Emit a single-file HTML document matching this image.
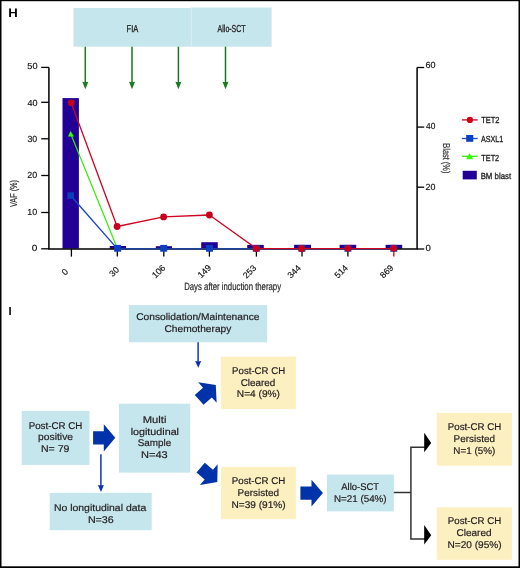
<!DOCTYPE html>
<html><head><meta charset="utf-8">
<style>
html,body{margin:0;padding:0;background:#fff;}
body{width:520px;height:568px;overflow:hidden;}
svg{display:block;}
text{font-family:"Liberation Sans",Arial,sans-serif;text-rendering:geometricPrecision;}
</style></head>
<body>
<svg width="520" height="568" viewBox="0 0 520 568">
<rect x="0" y="0" width="520" height="568" fill="#fff"/>
<text x="8.21" y="16.85" font-size="12.4" font-weight="bold" fill="#000" textLength="9.53" lengthAdjust="spacingAndGlyphs">H</text>
<rect x="73.5" y="8" width="118" height="38.7" fill="#c6e6ed"/>
<rect x="191.5" y="7.5" width="80.1" height="39.2" fill="#c6e6ed"/>
<rect x="190.9" y="7.5" width="0.9" height="39.2" fill="#d6edf2"/>
<text x="126.58" y="32.10" font-size="10" fill="#222" stroke="#222" stroke-width="0.3" textLength="11.64" lengthAdjust="spacingAndGlyphs">FIA</text>
<text x="217.58" y="31.70" font-size="10" fill="#222" stroke="#222" stroke-width="0.3" textLength="28.08" lengthAdjust="spacingAndGlyphs">Allo-SCT</text>
<line x1="85.3" y1="46.7" x2="85.3" y2="83" stroke="#177a1f" stroke-width="1.5"/>
<path d="M82.3 81.7 L85.3 82.3 L88.3 81.7 L85.3 89.2 Z" fill="#177a1f"/>
<line x1="132" y1="46.7" x2="132" y2="83" stroke="#177a1f" stroke-width="1.5"/>
<path d="M129.0 81.7 L132.0 82.3 L135.0 81.7 L132.0 89.2 Z" fill="#177a1f"/>
<line x1="178.4" y1="46.7" x2="178.4" y2="83" stroke="#177a1f" stroke-width="1.5"/>
<path d="M175.4 81.7 L178.4 82.3 L181.4 81.7 L178.4 89.2 Z" fill="#177a1f"/>
<line x1="225.5" y1="46.7" x2="225.5" y2="83" stroke="#177a1f" stroke-width="1.5"/>
<path d="M222.5 81.7 L225.5 82.3 L228.5 81.7 L225.5 89.2 Z" fill="#177a1f"/>
<rect x="62.5" y="98.1" width="16.4" height="150.5" fill="#220096"/>
<rect x="109.7" y="246" width="16.4" height="2.6" fill="#220096"/>
<rect x="155.8" y="246.2" width="16.2" height="2.4" fill="#220096"/>
<rect x="201.2" y="242.2" width="16.6" height="6.4" fill="#220096"/>
<rect x="247.2" y="244.9" width="16.6" height="3.7" fill="#220096"/>
<rect x="294.1" y="244.8" width="16.9" height="3.8" fill="#220096"/>
<rect x="339.6" y="244.8" width="16.6" height="3.8" fill="#220096"/>
<rect x="385.6" y="244.8" width="16.6" height="3.8" fill="#220096"/>
<polyline points="48.9,67.4 48.9,248.9 417.1,248.9 417.1,67.5" stroke="#000" stroke-width="1.5" fill="none" stroke-linejoin="miter"/>
<line x1="41.2" y1="67.4" x2="48.9" y2="67.4" stroke="#000" stroke-width="1.3"/>
<line x1="41.2" y1="102.3" x2="48.9" y2="102.3" stroke="#000" stroke-width="1.3"/>
<line x1="41.2" y1="138.8" x2="48.9" y2="138.8" stroke="#000" stroke-width="1.3"/>
<line x1="41.2" y1="175.5" x2="48.9" y2="175.5" stroke="#000" stroke-width="1.3"/>
<line x1="41.2" y1="212.5" x2="48.9" y2="212.5" stroke="#000" stroke-width="1.3"/>
<line x1="41.2" y1="248.8" x2="48.9" y2="248.8" stroke="#000" stroke-width="1.3"/>
<line x1="417.1" y1="67.5" x2="424.2" y2="67.5" stroke="#000" stroke-width="1.3"/>
<line x1="417.1" y1="127.1" x2="424.2" y2="127.1" stroke="#000" stroke-width="1.3"/>
<line x1="417.1" y1="187.2" x2="424.2" y2="187.2" stroke="#000" stroke-width="1.3"/>
<line x1="417.1" y1="249" x2="424.2" y2="249" stroke="#000" stroke-width="1.3"/>
<line x1="71.4" y1="249" x2="71.4" y2="256.6" stroke="#000" stroke-width="1.3"/>
<line x1="117.3" y1="249" x2="117.3" y2="256.6" stroke="#000" stroke-width="1.3"/>
<line x1="163.8" y1="249" x2="163.8" y2="256.6" stroke="#000" stroke-width="1.3"/>
<line x1="209.4" y1="249" x2="209.4" y2="256.6" stroke="#000" stroke-width="1.3"/>
<line x1="256.4" y1="249" x2="256.4" y2="256.6" stroke="#000" stroke-width="1.3"/>
<line x1="302" y1="249" x2="302" y2="256.6" stroke="#000" stroke-width="1.3"/>
<line x1="347.9" y1="249" x2="347.9" y2="256.6" stroke="#000" stroke-width="1.3"/>
<line x1="393.8" y1="249" x2="393.8" y2="256.6" stroke="#d0021b" stroke-width="1.3"/>
<text x="27.33" y="69.15" font-size="8.8" fill="#111" stroke="#111" stroke-width="0.15" textLength="10.23" lengthAdjust="spacingAndGlyphs">50</text>
<text x="27.50" y="105.75" font-size="8.8" fill="#111" stroke="#111" stroke-width="0.15" textLength="10.06" lengthAdjust="spacingAndGlyphs">40</text>
<text x="27.47" y="141.80" font-size="8.8" fill="#111" stroke="#111" stroke-width="0.15" textLength="9.78" lengthAdjust="spacingAndGlyphs">30</text>
<text x="27.36" y="178.45" font-size="8.8" fill="#111" stroke="#111" stroke-width="0.15" textLength="9.90" lengthAdjust="spacingAndGlyphs">20</text>
<text x="27.33" y="214.95" font-size="8.8" fill="#111" stroke="#111" stroke-width="0.15" textLength="9.92" lengthAdjust="spacingAndGlyphs">10</text>
<text x="31.70" y="251.45" font-size="8.8" fill="#111" stroke="#111" stroke-width="0.15" textLength="5.59" lengthAdjust="spacingAndGlyphs">0</text>
<text x="425.45" y="67.75" font-size="8.8" fill="#111" stroke="#111" stroke-width="0.15" textLength="10.01" lengthAdjust="spacingAndGlyphs">60</text>
<text x="426.01" y="128.55" font-size="8.8" fill="#111" stroke="#111" stroke-width="0.15" textLength="9.32" lengthAdjust="spacingAndGlyphs">40</text>
<text x="425.46" y="189.75" font-size="8.8" fill="#111" stroke="#111" stroke-width="0.15" textLength="9.90" lengthAdjust="spacingAndGlyphs">20</text>
<text x="425.51" y="250.95" font-size="8.8" fill="#111" stroke="#111" stroke-width="0.15" textLength="5.36" lengthAdjust="spacingAndGlyphs">0</text>
<text transform="translate(64.80 271.80) rotate(-45)" x="-2.45" y="3.03" font-size="8.8" fill="#111" stroke="#111" stroke-width="0.15" textLength="4.89" lengthAdjust="spacingAndGlyphs">0</text>
<text transform="translate(114.00 271.70) rotate(-45)" x="-4.88" y="3.03" font-size="8.8" fill="#111" stroke="#111" stroke-width="0.15" textLength="9.79" lengthAdjust="spacingAndGlyphs">30</text>
<text transform="translate(158.60 271.40) rotate(-45)" x="-7.48" y="3.03" font-size="8.8" fill="#111" stroke="#111" stroke-width="0.15" textLength="14.68" lengthAdjust="spacingAndGlyphs">106</text>
<text transform="translate(204.40 271.20) rotate(-45)" x="-7.47" y="3.03" font-size="8.8" fill="#111" stroke="#111" stroke-width="0.15" textLength="14.68" lengthAdjust="spacingAndGlyphs">149</text>
<text transform="translate(249.60 271.60) rotate(-45)" x="-7.37" y="3.03" font-size="8.8" fill="#111" stroke="#111" stroke-width="0.15" textLength="14.68" lengthAdjust="spacingAndGlyphs">253</text>
<text transform="translate(294.10 271.50) rotate(-45)" x="-7.38" y="3.03" font-size="8.8" fill="#111" stroke="#111" stroke-width="0.15" textLength="14.68" lengthAdjust="spacingAndGlyphs">344</text>
<text transform="translate(341.20 271.50) rotate(-45)" x="-7.39" y="2.98" font-size="8.8" fill="#111" stroke="#111" stroke-width="0.15" textLength="14.68" lengthAdjust="spacingAndGlyphs">514</text>
<text transform="translate(386.60 271.50) rotate(-45)" x="-7.33" y="3.03" font-size="8.8" fill="#111" stroke="#111" stroke-width="0.15" textLength="14.68" lengthAdjust="spacingAndGlyphs">869</text>
<text x="184.16" y="289.50" font-size="10.5" fill="#2a2a2a" stroke="#2a2a2a" stroke-width="0.2" textLength="96.95" lengthAdjust="spacingAndGlyphs">Days after induction therapy</text>
<text transform="translate(14.10 193.70) rotate(-90)" x="-13.34" y="2.59" font-size="10" fill="#333" stroke="#333" stroke-width="0.2" textLength="27.10" lengthAdjust="spacingAndGlyphs">VAF (%)</text>
<text transform="translate(445.60 158.40) rotate(90)" x="-15.11" y="2.59" font-size="10" fill="#333" stroke="#333" stroke-width="0.2" textLength="30.08" lengthAdjust="spacingAndGlyphs">Blast (%)</text>
<g fill="none" stroke-width="1.5" stroke-linejoin="round">
<polyline stroke="#1a46bc" stroke-width="1.35" points="70.6,195.5 117.4,248.9 393.8,248.9"/>
<polyline stroke="#33ee00" stroke-width="1.2" points="71,134.5 117.4,248.6"/>
<polyline stroke="#cc0520" stroke-width="1.3" points="71.2,102.8 117.1,226.5 163.6,216.9 209.4,215.0 256.2,248.5 393.8,248.6"/>
</g>
<rect x="67.4" y="192.3" width="6.5" height="6.5" fill="#0a3fbf"/>
<rect x="114.1" y="244.9" width="7" height="6.8" fill="#0a3fbf"/>
<rect x="160.2" y="244.9" width="7" height="6.8" fill="#0a3fbf"/>
<rect x="206.0" y="244.9" width="7" height="6.8" fill="#0a3fbf"/>
<rect x="252.8" y="244.9" width="7" height="6.8" fill="#0a3fbf"/>
<rect x="298.4" y="244.9" width="7" height="6.8" fill="#0a3fbf"/>
<rect x="344.4" y="244.9" width="7" height="6.8" fill="#0a3fbf"/>
<rect x="390.3" y="244.9" width="7" height="6.8" fill="#0a3fbf"/>
<path d="M70.5 131.1 L74 136.6 L68 136.6 Z" fill="#33ff00"/>
<circle cx="71.2" cy="102.8" r="3.4" fill="#c9001b"/>
<circle cx="117.1" cy="226.5" r="3.4" fill="#c9001b"/>
<circle cx="163.6" cy="216.9" r="3.4" fill="#c9001b"/>
<circle cx="209.4" cy="215.0" r="3.4" fill="#c9001b"/>
<circle cx="256.2" cy="248.4" r="3.5" fill="#c9001b"/>
<circle cx="301.6" cy="248.4" r="3.5" fill="#c9001b"/>
<circle cx="348" cy="248.3" r="3.4" fill="#c9001b"/>
<circle cx="393.6" cy="248.3" r="3.4" fill="#c9001b"/>
<line x1="461.9" y1="119.9" x2="477.7" y2="119.9" stroke="#d0021b" stroke-width="1.3"/>
<circle cx="469.9" cy="119.9" r="3.1" fill="#d0021b"/>
<line x1="461.9" y1="138.5" x2="477.7" y2="138.5" stroke="#1a4cc4" stroke-width="1.3"/>
<rect x="466.2" y="135" width="7.1" height="6.8" fill="#0a3fbf"/>
<line x1="461.9" y1="156.3" x2="477.7" y2="156.3" stroke="#33ee00" stroke-width="1.3"/>
<path d="M469.4 153 L473.3 159.3 L466.2 159.3 Z" fill="#33ff00"/>
<rect x="462.7" y="170.8" width="14.1" height="8.6" fill="#220096"/>
<text x="481.13" y="123.10" font-size="8.7" fill="#222" stroke="#222" stroke-width="0.3" textLength="18.26" lengthAdjust="spacingAndGlyphs">TET2</text>
<text x="480.98" y="142.00" font-size="8.7" fill="#222" stroke="#222" stroke-width="0.3" textLength="22.37" lengthAdjust="spacingAndGlyphs">ASXL1</text>
<text x="481.34" y="160.50" font-size="8.7" fill="#222" stroke="#222" stroke-width="0.3" textLength="17.85" lengthAdjust="spacingAndGlyphs">TET2</text>
<text x="480.65" y="179.00" font-size="8.7" fill="#222" stroke="#222" stroke-width="0.3" textLength="30.51" lengthAdjust="spacingAndGlyphs">BM blast</text>
<text x="8.44" y="314.80" font-size="11.5" font-weight="bold" fill="#000" textLength="3.12" lengthAdjust="spacingAndGlyphs">I</text>
<rect x="128.9" y="305.1" width="138.3" height="37.2" fill="#c6e6ed"/>
<rect x="21.7" y="410.9" width="67.8" height="54" fill="#c6e6ed"/>
<rect x="118.9" y="403.7" width="71.35" height="68.9" fill="#c6e6ed"/>
<rect x="49.7" y="492.9" width="102" height="37.3" fill="#c6e6ed"/>
<rect x="326.9" y="474.6" width="66.95" height="36.8" fill="#c6e6ed"/>
<rect x="220.8" y="356.6" width="75.05" height="52.5" fill="#fcefc0"/>
<rect x="220.9" y="466.9" width="74.95" height="52.3" fill="#fcefc0"/>
<rect x="436.8" y="412.9" width="75.05" height="52.8" fill="#fcefc0"/>
<rect x="436.8" y="507.4" width="75.05" height="52.45" fill="#fcefc0"/>
<text x="136.19" y="320.40" font-size="9.8" fill="#231f20" stroke="#231f20" stroke-width="0.2" textLength="123.26" lengthAdjust="spacingAndGlyphs">Consolidation/Maintenance</text>
<text x="164.49" y="332.00" font-size="9.8" fill="#231f20" stroke="#231f20" stroke-width="0.2" textLength="66.83" lengthAdjust="spacingAndGlyphs">Chemotherapy</text>
<text x="232.11" y="373.70" font-size="9.8" fill="#231f20" stroke="#231f20" stroke-width="0.2" textLength="53.00" lengthAdjust="spacingAndGlyphs">Post-CR CH</text>
<text x="240.71" y="385.50" font-size="9.8" fill="#231f20" stroke="#231f20" stroke-width="0.2" textLength="34.63" lengthAdjust="spacingAndGlyphs">Cleared</text>
<text x="236.86" y="396.90" font-size="9.8" fill="#231f20" stroke="#231f20" stroke-width="0.2" textLength="43.09" lengthAdjust="spacingAndGlyphs">N=4 (9%)</text>
<text x="28.70" y="428.50" font-size="9.8" fill="#231f20" stroke="#231f20" stroke-width="0.2" textLength="53.61" lengthAdjust="spacingAndGlyphs">Post-CR CH</text>
<text x="38.13" y="440.20" font-size="9.8" fill="#231f20" stroke="#231f20" stroke-width="0.2" textLength="34.91" lengthAdjust="spacingAndGlyphs">positive</text>
<text x="40.93" y="452.20" font-size="9.8" fill="#231f20" stroke="#231f20" stroke-width="0.2" textLength="28.46" lengthAdjust="spacingAndGlyphs">N= 79</text>
<text x="142.78" y="422.90" font-size="9.8" fill="#231f20" stroke="#231f20" stroke-width="0.2" textLength="23.67" lengthAdjust="spacingAndGlyphs">Multi</text>
<text x="130.68" y="434.80" font-size="9.8" fill="#231f20" stroke="#231f20" stroke-width="0.2" textLength="48.33" lengthAdjust="spacingAndGlyphs">logitudinal</text>
<text x="137.66" y="446.40" font-size="9.8" fill="#231f20" stroke="#231f20" stroke-width="0.2" textLength="33.47" lengthAdjust="spacingAndGlyphs">Sample</text>
<text x="140.99" y="458.30" font-size="9.8" fill="#231f20" stroke="#231f20" stroke-width="0.2" textLength="26.69" lengthAdjust="spacingAndGlyphs">N=43</text>
<text x="53.94" y="510.80" font-size="9.8" fill="#231f20" stroke="#231f20" stroke-width="0.2" textLength="92.26" lengthAdjust="spacingAndGlyphs">No longitudinal data</text>
<text x="87.92" y="522.90" font-size="9.8" fill="#231f20" stroke="#231f20" stroke-width="0.2" textLength="25.85" lengthAdjust="spacingAndGlyphs">N=36</text>
<text x="231.80" y="484.30" font-size="9.8" fill="#231f20" stroke="#231f20" stroke-width="0.2" textLength="53.61" lengthAdjust="spacingAndGlyphs">Post-CR CH</text>
<text x="237.58" y="495.90" font-size="9.8" fill="#231f20" stroke="#231f20" stroke-width="0.2" textLength="41.35" lengthAdjust="spacingAndGlyphs">Persisted</text>
<text x="231.47" y="507.50" font-size="9.8" fill="#231f20" stroke="#231f20" stroke-width="0.2" textLength="54.18" lengthAdjust="spacingAndGlyphs">N=39 (91%)</text>
<text x="341.28" y="489.90" font-size="9.8" fill="#231f20" stroke="#231f20" stroke-width="0.2" textLength="37.84" lengthAdjust="spacingAndGlyphs">Allo-SCT</text>
<text x="333.99" y="501.60" font-size="9.8" fill="#231f20" stroke="#231f20" stroke-width="0.2" textLength="52.64" lengthAdjust="spacingAndGlyphs">N=21 (54%)</text>
<text x="447.80" y="430.30" font-size="9.8" fill="#231f20" stroke="#231f20" stroke-width="0.2" textLength="53.41" lengthAdjust="spacingAndGlyphs">Post-CR CH</text>
<text x="453.58" y="441.90" font-size="9.8" fill="#231f20" stroke="#231f20" stroke-width="0.2" textLength="41.35" lengthAdjust="spacingAndGlyphs">Persisted</text>
<text x="453.28" y="453.50" font-size="9.8" fill="#231f20" stroke="#231f20" stroke-width="0.2" textLength="42.05" lengthAdjust="spacingAndGlyphs">N=1 (5%)</text>
<text x="447.80" y="524.30" font-size="9.8" fill="#231f20" stroke="#231f20" stroke-width="0.2" textLength="53.41" lengthAdjust="spacingAndGlyphs">Post-CR CH</text>
<text x="456.50" y="535.90" font-size="9.8" fill="#231f20" stroke="#231f20" stroke-width="0.2" textLength="35.05" lengthAdjust="spacingAndGlyphs">Cleared</text>
<text x="447.47" y="547.50" font-size="9.8" fill="#231f20" stroke="#231f20" stroke-width="0.2" textLength="54.18" lengthAdjust="spacingAndGlyphs">N=20 (95%)</text>
<line x1="198.1" y1="342.2" x2="198.1" y2="362" stroke="#2a4fc8" stroke-width="1.7"/>
<line x1="100.9" y1="454.2" x2="100.9" y2="486" stroke="#2a4fc8" stroke-width="1.7"/>
<path d="M195.1 360.9 L198.2 361.4 L201.2 360.9 L198.3 367.8 Z" fill="#0b2fae"/>
<path d="M97.9 485.1 L100.9 485.6 L103.9 485.1 L101 491.9 Z" fill="#0b2fae"/>
<path d="M115.30 437.80 L103.80 424.15 L103.80 431.15 L93.10 431.15 L93.10 444.45 L103.80 444.45 L103.80 451.45 Z" fill="#0033aa"/>
<path d="M322.90 493.10 L311.50 479.65 L311.50 486.45 L300.40 486.45 L300.40 499.75 L311.50 499.75 L311.50 506.55 Z" fill="#0033aa"/>
<path d="M215.80 385.00 L198.17 382.31 L203.02 387.69 L194.77 395.12 L203.54 404.86 L211.79 397.43 L216.64 402.82 Z" fill="#0033aa"/>
<path d="M217.30 481.90 L217.62 464.28 L212.94 469.76 L204.80 462.81 L196.49 472.54 L204.63 479.49 L199.95 484.97 Z" fill="#0033aa"/>
<g stroke="#333" stroke-width="1.5" fill="none">
<line x1="393.8" y1="492.5" x2="411" y2="492.5"/>
<polyline points="425,447.3 410.9,447.3 410.9,539 425,539"/>
</g>
<path d="M424.2 432.7 L431.2 443.1 L424.2 452.3 Z" fill="#000"/>
<path d="M424.2 525 L431.2 535.2 L424.2 544.6 Z" fill="#000"/>
<rect x="0" y="0" width="520" height="1.2" fill="#000"/>
<rect x="0" y="0" width="1.5" height="568" fill="#000"/>
<rect x="518.5" y="0" width="1.5" height="568" fill="#000"/>
<rect x="0" y="566.3" width="520" height="1.7" fill="#000"/>
</svg>
</body></html>
